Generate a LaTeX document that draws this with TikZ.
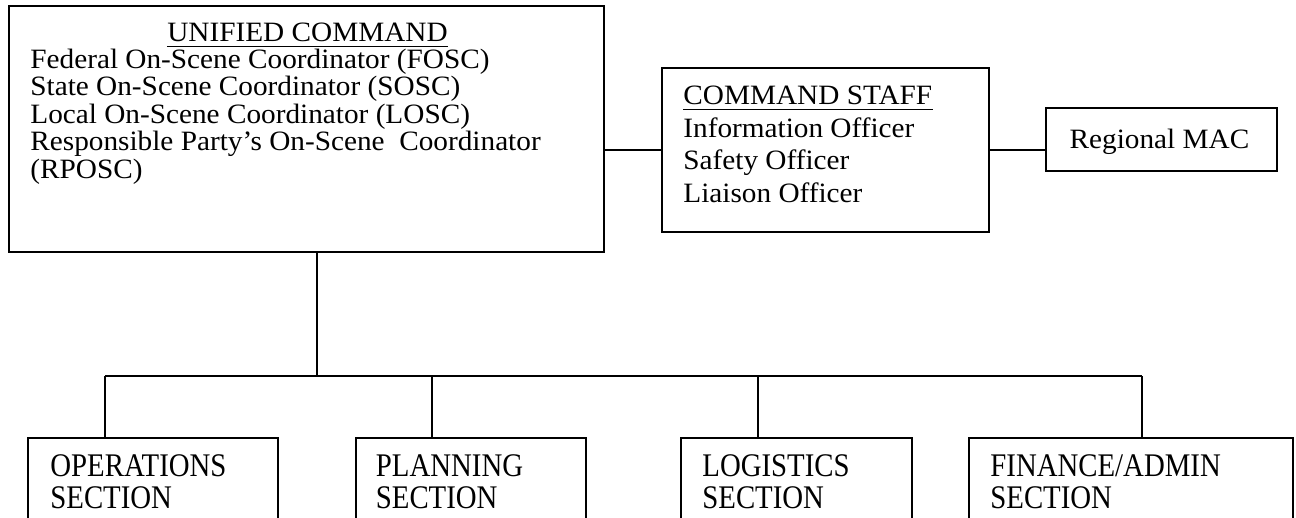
\documentclass[tikz,border=0pt]{standalone}
\usepackage{fontspec}
\setmainfont{Liberation Serif}
\newfontfamily\topf[FakeStretch=1.045]{Liberation Serif}
\newfontfamily\botf[FakeStretch=0.873]{Liberation Serif}
\begin{document}
\begin{tikzpicture}[x=0.5pt,y=-0.5pt,
  box/.style={draw,line width=0.9pt,rectangle,inner sep=0pt,outer sep=0pt},
  conn/.style={line width=0.9pt},
  toptext/.style={inner sep=0pt,anchor=base west,font=\topf\fontsize{14}{16}\selectfont},
  bottext/.style={inner sep=0pt,anchor=base west,font=\botf\fontsize{16.5}{16}\selectfont},
  uline/.style={line width=0.8pt}]
\useasboundingbox (0,0) rectangle (1296,518);
\clip (0,0) rectangle (1296,518);
% boxes
\node[box,minimum width=297.5pt,minimum height=123pt] (uc) at (306.5,129) {};
\node[box,minimum width=163.5pt,minimum height=82pt] (cs) at (825.5,150) {};
\node[box,minimum width=115.5pt,minimum height=31.5pt] (mac) at (1161.5,139.5) {};
\node[box,minimum width=125pt,minimum height=66pt] (ops) at (153,504) {};
\node[box,minimum width=115pt,minimum height=66pt] (plan) at (471,504) {};
\node[box,minimum width=115.5pt,minimum height=66pt] (log) at (796.5,504) {};
\node[box,minimum width=162pt,minimum height=66pt] (fin) at (1131,504) {};
% unified command text
\node[toptext,anchor=base] (uch) at (307.5,41.7) {UNIFIED COMMAND};
\draw[uline] ([yshift=-2.4pt]uch.base west) -- ([yshift=-2.4pt]uch.base east);
\node[toptext] (uc1) at (30,68.5) {Federal On-Scene Coordinator (FOSC)};
\node[toptext] (uc2) at (30,96) {State On-Scene Coordinator (SOSC)};
\node[toptext] (uc3) at (30,123.5) {Local On-Scene Coordinator (LOSC)};
\node[toptext] (uc4) at (30,151) {Responsible Party’s On-Scene\ \ Coordinator};
\node[toptext] (uc5) at (30,178.5) {(RPOSC)};
% command staff text
\node[toptext] (csh) at (683,105) {COMMAND STAFF};
\draw[uline] ([yshift=-2.2pt]csh.base west) -- ([yshift=-2.2pt]csh.base east);
\node[toptext] (cs1) at (683,137.5) {Information Officer};
\node[toptext] (cs2) at (683,170) {Safety Officer};
\node[toptext] (cs3) at (683,203) {Liaison Officer};
% regional MAC
\node[toptext,anchor=base] (mact) at (1159.5,148.3) {Regional MAC};
% sections
\node[bottext] (ops1) at (50,476.5) {OPERATIONS};
\node[bottext] (ops2) at (50,508.3) {SECTION};
\node[bottext] (plan1) at (375.5,476.5) {PLANNING};
\node[bottext] (plan2) at (375.5,508.3) {SECTION};
\node[bottext] (log1) at (702,476.5) {LOGISTICS};
\node[bottext] (log2) at (702,508.3) {SECTION};
\node[bottext] (fin1) at (990,476.5) {FINANCE/ADMIN};
\node[bottext] (fin2) at (990,508.3) {SECTION};
% connectors
\draw[conn] (uc.east |- cs.west) -- (cs.west);
\draw[conn] (cs.east) -- (cs.east -| mac.west);
\coordinate (bus0) at (316.7,376);
\coordinate (jops) at (105,376);
\coordinate (jplan) at (432,376);
\coordinate (jlog) at (758,376);
\coordinate (jfin) at (1142,376);
\draw[conn] (uc.south -| bus0) -- (bus0);
\draw[conn] (jops) -- (jfin);
\foreach \j/\b in {jops/ops,jplan/plan,jlog/log,jfin/fin}
  \draw[conn] (\j) -- (\j |- \b.north);
\end{tikzpicture}
\end{document}
